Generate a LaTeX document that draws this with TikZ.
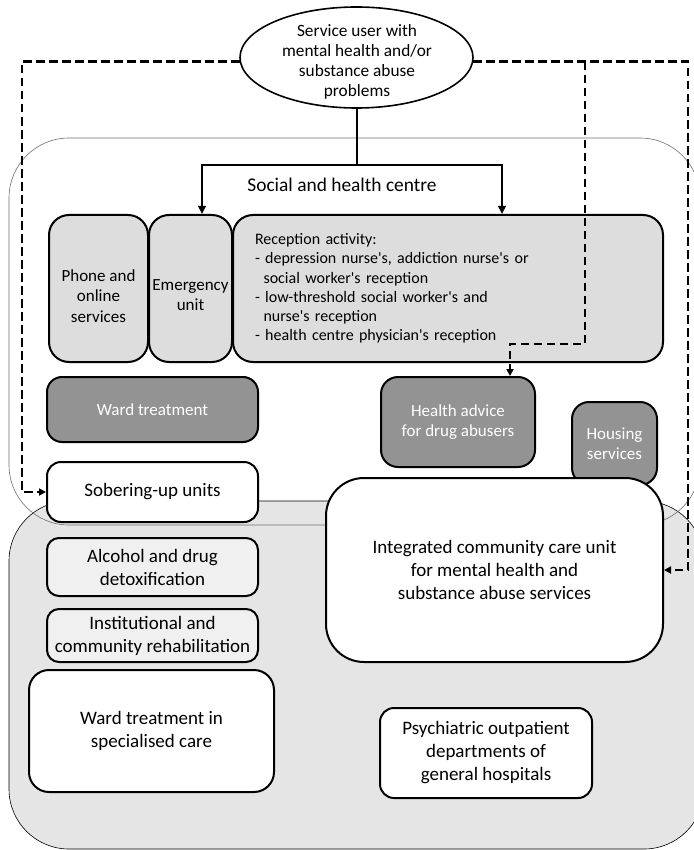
\documentclass[tikz,border=0pt]{standalone}
\usepackage{fontspec}
\setmainfont{Carlito}
\usetikzlibrary{shapes.geometric,arrows.meta}
\definecolor{lightbox}{HTML}{DDDDDD}
\definecolor{darkbox}{HTML}{939393}
\definecolor{zonefill}{HTML}{E5E5E5}
\definecolor{palebox}{HTML}{F0F0F0}
\definecolor{zoneline}{HTML}{6E6E6E}
\newcommand{\sq}{\textquotesingle}
\begin{document}
\begin{tikzpicture}[x=1pt,y=-1pt,
  box/.style={draw=black,line width=2pt,rounded corners=#1,align=center,inner sep=0pt},
  box/.default=14pt,
  fsmall/.style={font=\fontsize{17}{20.5}\selectfont},
  fbig/.style={font=\fontsize{19}{23}\selectfont},
  txtonly/.style={align=center,inner sep=0pt},
  conn/.style={line width=2pt,-{Triangle[length=8pt,width=7.5pt]}},
  dconn/.style={line width=2.6pt,dash pattern=on 8.5pt off 4.5pt,-{Triangle[length=7pt,width=7pt]}},
  ]
\useasboundingbox (0,0) rectangle (693,850);

% zones
\path[fill=zonefill,draw=black,line width=0.6pt,rounded corners=60pt] (9,501) rectangle (704,849);
\draw[draw=zoneline,line width=0.6pt,rounded corners=60pt] (9,138) rectangle (700,525);

% service user
\node[ellipse,draw=black,line width=1.6pt,fill=white,minimum width=233pt,minimum height=101pt,
      inner sep=0pt] (user) at (356.5,57.5) {};
\node[txtonly,font=\fontsize{17.3}{20}\selectfont] (usertxt) at (357,62)
  {Service user with\\mental health and/or\\substance abuse\\problems};

\node[font=\fontsize{19.4}{23}\selectfont,inner sep=0pt] (centre) at (342,185) {Social and health centre};

% first row
\node[box=20pt,fill=lightbox,minimum width=99pt,minimum height=147pt] (phone) at (98.5,288.5) {};
\node[txtonly,fsmall] (phonetxt) at (98.5,296) {Phone and\\online\\services};
\node[box=20pt,fill=lightbox,minimum width=83pt,minimum height=147pt] (emerg) at (190.5,288.5) {};
\node[txtonly,fsmall] (emergtxt) at (190.5,295) {Emergency\\unit};
\node[box=20pt,fill=lightbox,minimum width=430pt,minimum height=147pt,text width=386pt,
      align=left,inner xsep=22pt,font=\fontsize{16}{19.3}\selectfont] (recep) at (448,288.5)
  {Reception activity:\\
   - depression nurse\sq s, addiction nurse\sq s or\\
   \hspace*{8.5pt}social worker\sq s reception\\
   - low-threshold social worker\sq s and\\
   \hspace*{8.5pt}nurse\sq s reception\\
   - health centre physician\sq s reception};

% dark boxes
\node[box=15pt,fill=darkbox,text=white,fsmall,minimum width=211pt,minimum height=65pt] (ward) at (152.5,409.5) {Ward treatment};
\node[box=17pt,fill=darkbox,text=white,fsmall,minimum width=154pt,minimum height=90pt] (health) at (458,422) {Health advice\\for drug abusers};
\node[box=17pt,fill=darkbox,text=white,fsmall,minimum width=85pt,minimum height=83pt] (housing) at (614.5,443.5) {Housing\\services};

% lower boxes
\node[box=14pt,fill=white,fbig,minimum width=211pt,minimum height=60pt] (sober) at (152.5,492) {Sobering-up units};
\node[box=38pt,fill=white,fbig,minimum width=337pt,minimum height=184pt] (integ) at (494.5,570)
  {Integrated community care unit\\for mental health and\\substance abuse services};
\node[box=12pt,fill=palebox,fbig,minimum width=211pt,minimum height=58pt] (alco) at (152.5,567) {Alcohol and drug\\detoxification};
\node[box=12pt,fill=palebox,fbig,minimum width=211pt,minimum height=53pt] (inst) at (152.5,635.5) {Institutional and\\community rehabilitation};
\node[box=20pt,fill=white,fbig,minimum width=245pt,minimum height=122pt] (wardspec) at (151.5,731) {Ward treatment in\\specialised care};
\node[box=14pt,fill=white,fbig,minimum width=212pt,minimum height=90pt] (psych) at (486,753) {Psychiatric outpatient\\departments of\\general hospitals};

% solid connectors
\coordinate (jl) at (202,165);
\coordinate (jr) at (502,165);
\draw[conn] (user.south) -- (user.south |- jl) -- (jl) -- (jl |- emerg.north);
\draw[conn] (user.south |- jr) -- (jr) -- (jr |- recep.north);

% dashed connectors
\coordinate (lcol) at (22,0);
\coordinate (rcol) at (688,0);
\coordinate (bcol) at (585,0);
\coordinate (bturn) at (510,344);
\draw[dconn] (user.182) -- (user.182 -| lcol) -- (lcol |- sober.west) -- (sober.west);
\draw[dconn] (user.358) -- (user.358 -| rcol) -- (rcol |- integ.east) -- (integ.east);
\draw[dconn] (user.358 -| bcol) -- (bcol |- bturn) -- (bturn) -- (bturn |- health.north);
\end{tikzpicture}
\end{document}
